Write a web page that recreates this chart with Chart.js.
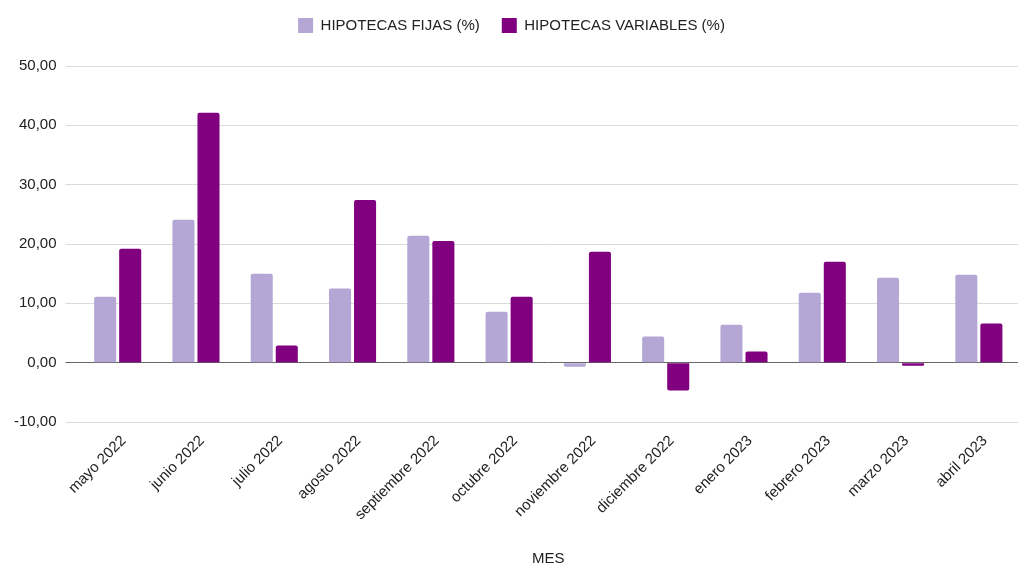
<!DOCTYPE html>
<html lang="es">
<head>
    <meta charset="UTF-8">
    <title>Hipotecas</title>
    <style>
        html, body { margin: 0; padding: 0; background: #fff; }
        .chart-item { width: 1020px; height: 564px; }
    </style>
</head>
<body>
    <div class="chart-item">
        <canvas id="mychart"></canvas>
    </div>

    <script src="https://cdn.jsdelivr.net/npm/chart.js@4.4.1/dist/chart.umd.min.js"></script>
    <script>
        // meses
        const meses = ['mayo 2022', 'junio 2022', 'julio 2022', 'agosto 2022', 'septiembre 2022', 'octubre 2022',
            'noviembre 2022', 'diciembre 2022', 'enero 2023', 'febrero 2023', 'marzo 2023', 'abril 2023'];

        // valores (%)
        const fijas = [11.1, 24.1, 15.0, 12.5, 21.4, 8.6, -0.7, 4.4, 6.4, 11.8, 14.3, 14.8];
        const variables = [19.2, 42.1, 2.9, 27.4, 20.5, 11.1, 18.7, -4.7, 1.9, 17.0, -0.5, 6.6];

        const colorFijas = '#b4a7d6';
        const colorVariables = '#800080';
        const fuente = 'Liberation Sans, Arial, sans-serif';

        // margen bajo la leyenda
        const legendMargin = {
            id: 'legendMargin',
            beforeInit(chart) {
                const fit = chart.legend.fit;
                chart.legend.fit = function () {
                    fit.bind(chart.legend)();
                    this.height += 23;
                };
            }
        };

        const fmt = v => v.toFixed(2).replace('.', ',');

        new Chart(document.getElementById('mychart'), {
            type: 'bar',
            data: {
                labels: meses,
                datasets: [
                    {
                        label: 'HIPOTECAS FIJAS (%)',
                        data: fijas,
                        backgroundColor: colorFijas,
                        borderRadius: 2,
                        borderSkipped: 'start',
                    },
                    {
                        label: 'HIPOTECAS VARIABLES (%)',
                        data: variables,
                        backgroundColor: colorVariables,
                        borderRadius: 2,
                        borderSkipped: 'start',
                    }
                ]
            },
            options: {
                responsive: true,
                maintainAspectRatio: false,
                animation: false,
                categoryPercentage: 0.64,
                barPercentage: 0.88,
                layout: { padding: { top: -4, right: 2, left: 5, bottom: 0 } },
                plugins: {
                    legend: {
                        position: 'top',
                        labels: {
                            boxWidth: 15,
                            boxHeight: 15,
                            padding: 22,
                            color: '#222',
                            font: { family: fuente, size: 15 }
                        }
                    },
                    tooltip: { enabled: false }
                },
                scales: {
                    x: {
                        grid: { display: false },
                        border: { display: false },
                        ticks: {
                            maxRotation: 45,
                            minRotation: 45,
                            labelOffset: 6,
                            color: '#222',
                            padding: 2,
                            font: { family: fuente, size: 15 }
                        },
                        title: {
                            display: true,
                            text: 'MES',
                            color: '#222',
                            padding: { top: 20, bottom: -4 },
                            font: { family: fuente, size: 15 }
                        },
                        afterFit(scale) { scale.height = 142; }
                    },
                    y: {
                        min: -10,
                        max: 50,
                        border: { display: false },
                        grid: {
                            color: ctx => ctx.tick && ctx.tick.value === 0 ? '#666' : '#dadada',
                            lineWidth: 1,
                            tickLength: 13
                        },
                        ticks: {
                            stepSize: 10,
                            padding: 9,
                            color: '#222',
                            font: { family: fuente, size: 15 },
                            callback: v => fmt(v)
                        }
                    }
                }
            },
            plugins: [legendMargin]
        });
    </script>
</body>
</html>
